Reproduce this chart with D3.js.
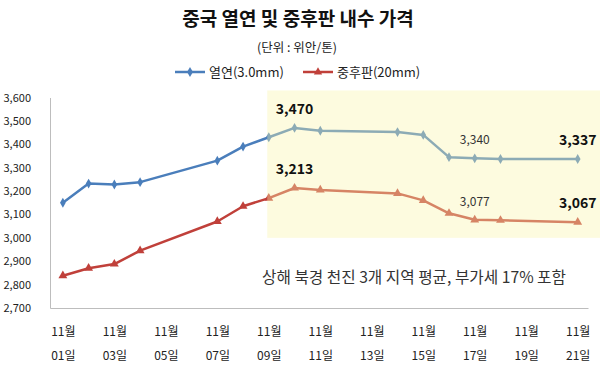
<!DOCTYPE html>
<html>
<head>
<meta charset="utf-8">
<script src="https://cdn.jsdelivr.net/npm/d3@7"></script>
<style>
  body { margin: 0; background: #fff; }
  svg text { font-family: "Noto Sans CJK KR", "Noto Sans", sans-serif; }
</style>
</head>
<body>
<div id="chart"></div>
<script>
// data (11월, day of month)
var days = [1, 2, 3, 4, 7, 8, 9, 10, 11, 14, 15, 16, 17, 18, 21];
var hotRolled = [3150, 3232, 3228, 3238, 3330, 3390, 3430, 3470, 3458, 3452, 3440, 3345, 3340, 3337, 3337];
var plate = [2838, 2870, 2888, 2945, 3070, 3135, 3170, 3213, 3205, 3190, 3160, 3105, 3077, 3075, 3067];
var yTicks = [2700, 2800, 2900, 3000, 3100, 3200, 3300, 3400, 3500, 3600];
var xTicks = [1, 3, 5, 7, 9, 11, 13, 15, 17, 19, 21];
// highlighted period: day range and price range
var highlightDays = [8.94, 21.9];
var highlightPrices = [3000, 3630];
// labelled points: [series, index, bold]
var callouts = [["hot", 7, true], ["hot", 12, false], ["hot", 14, true],
                ["plate", 7, true], ["plate", 12, false], ["plate", 14, true]];

var width = 600, height = 367;
var margin = {top: 97.5, right: 12, bottom: 59, left: 50};

var blue = "#4a7ebb", red = "#c0403a";

var svg = d3.select("#chart").append("svg")
  .attr("width", width)
  .attr("height", height);

var x = d3.scaleLinear()
  .domain([0.5, 21.4])
  .range([margin.left, width - margin.right]);

var y = d3.scaleLinear()
  .domain([2700, 3600])
  .range([height - margin.bottom, margin.top]);

var fmt = d3.format(",");

// titles
svg.append("text")
  .attr("x", 298).attr("y", 26)
  .attr("text-anchor", "middle")
  .style("font-size", "19px").style("font-weight", "bold").attr("fill", "#111")
  .text("중국 열연 및 중후판 내수 가격");

svg.append("text")
  .attr("x", 297).attr("y", 52)
  .attr("text-anchor", "middle")
  .style("font-size", "12.5px").attr("fill", "#222")
  .text("(단위 : 위안/톤)");

// legend
var legend = [
  {name: "열연(3.0mm)", color: blue, sym: d3.symbolDiamond, x: 175},
  {name: "중후판(20mm)", color: red, sym: d3.symbolTriangle, x: 303}
];
var lg = svg.append("g").selectAll("g").data(legend).enter().append("g")
  .attr("transform", function(d) { return "translate(" + d.x + ",72)"; });
lg.append("line").attr("x1", 0).attr("x2", 30)
  .attr("stroke", function(d) { return d.color; }).attr("stroke-width", 2.5);
lg.append("path")
  .attr("transform", "translate(15,0)")
  .attr("d", function(d) { return d3.symbol().type(d.sym).size(30)(); })
  .attr("fill", function(d) { return d.color; });
lg.append("text").attr("x", 34).attr("y", 4.5)
  .style("font-size", "13px").attr("fill", "#222")
  .text(function(d) { return d.name; });

// axes
var yAxis = svg.append("g")
  .attr("transform", "translate(" + margin.left + ",0)")
  .call(d3.axisLeft(y).tickValues(yTicks).tickSize(0).tickPadding(19).tickFormat(fmt));
yAxis.select(".domain").attr("stroke", "#bdbdbd");
yAxis.selectAll("text").style("font-size", "11px").attr("fill", "#222");

var xAxis = svg.append("g")
  .attr("transform", "translate(0," + (height - margin.bottom) + ")")
  .call(d3.axisBottom(x).tickValues(xTicks).tickSize(0).tickFormat(""));
xAxis.select(".domain").attr("stroke", "#bdbdbd");
var xt = xAxis.selectAll(".tick text")
  .style("font-size", "12px").attr("fill", "#222").attr("y", 0);
xt.append("tspan").attr("x", 0).attr("dy", "28px").text("11월");
xt.append("tspan").attr("x", 0).attr("dy", "24px")
  .text(function(d) { return d3.format("02")(d) + "일"; });

// lines
var series = [
  {key: "hot", values: hotRolled, color: blue, sym: d3.symbolDiamond, size: 28},
  {key: "plate", values: plate, color: red, sym: d3.symbolTriangle, size: 34}
];
var line = d3.line()
  .x(function(d) { return x(d[0]); })
  .y(function(d) { return y(d[1]); });

series.forEach(function(s) {
  var pts = days.map(function(d, i) { return [d, s.values[i]]; });
  svg.append("path")
    .datum(pts)
    .attr("d", line)
    .attr("fill", "none")
    .attr("stroke", s.color)
    .attr("stroke-width", 2.5)
    .attr("stroke-linejoin", "round");
  svg.append("g").selectAll("path").data(pts).enter().append("path")
    .attr("transform", function(d) { return "translate(" + x(d[0]) + "," + y(d[1]) + ")"; })
    .attr("d", d3.symbol().type(s.sym).size(s.size))
    .attr("fill", s.color);
});

// highlighted box over the lines
svg.append("rect")
  .attr("x", x(highlightDays[0]))
  .attr("y", y(highlightPrices[1]))
  .attr("width", x(highlightDays[1]) - x(highlightDays[0]))
  .attr("height", y(highlightPrices[0]) - y(highlightPrices[1]))
  .attr("fill", "rgb(250,245,170)")
  .attr("fill-opacity", 0.38);

// value labels
callouts.forEach(function(c) {
  var vals = c[0] == "hot" ? hotRolled : plate;
  svg.append("text")
    .attr("x", x(days[c[1]]))
    .attr("y", y(vals[c[1]]) - 14)
    .attr("text-anchor", "middle")
    .style("font-size", c[2] ? "14px" : "12px")
    .style("font-weight", c[2] ? "bold" : "normal")
    .attr("fill", c[2] ? "#111" : "#333")
    .text(fmt(vals[c[1]]));
});

// note
svg.append("text")
  .attr("x", 262).attr("y", 283)
  .style("font-size", "15.7px").attr("fill", "#333")
  .text("상해 북경 천진 3개 지역 평균, 부가세 17% 포함");
</script>
</body>
</html>
